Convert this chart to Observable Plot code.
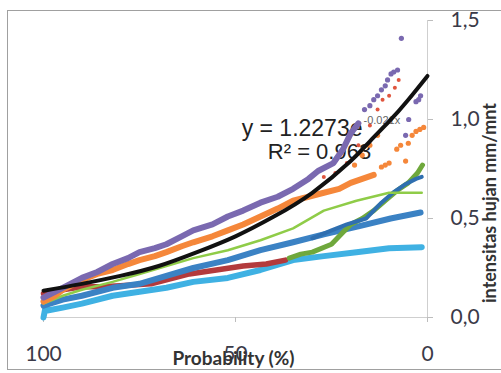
<!DOCTYPE html>
<html>
<head>
<meta charset="utf-8">
<script src="https://cdn.jsdelivr.net/npm/d3@7"></script>
<script src="https://cdn.jsdelivr.net/npm/@observablehq/plot@0.6"></script>
<style>
  html, body { margin: 0; padding: 0; background: #fff; }
  #wrap { position: relative; width: 501px; height: 373px; overflow: hidden; }
  #border { position: absolute; left: 7px; top: 10px; width: 494px; height: 360px; border: 1px solid #a0a0a0; border-right: none; box-sizing: border-box; pointer-events: none; }
  svg { position: absolute; left: 0; top: 0; }
</style>
</head>
<body>
<div id="wrap"><div id="border"></div></div>
<script>
// ---- data (probability %, rain intensity mm/min) ----
const xTicks = [100, 50, 0];
const yTicks = [0, 0.5, 1.0, 1.5];
const xLabel = "Probability (%)";
const yLabel = "intensitas hujan mm/mnt";
const eqMain = "y = 1.2273e";
const eqExp = "-0.021x";
const eqR2 = "R² = 0.963";

const purpleP = [100, 97, 95, 92, 90, 86, 82, 78, 75, 71, 68, 64, 61, 56, 52, 48, 43.5, 39, 35, 31, 28.5, 24.5, 22, 20, 18];
const purpleV = [0.10, 0.13, 0.15, 0.18, 0.20, 0.23, 0.27, 0.30, 0.33, 0.35, 0.37, 0.41, 0.44, 0.47, 0.51, 0.54, 0.58, 0.61, 0.65, 0.70, 0.74, 0.78, 0.85, 0.93, 0.98];
const purpleDotP = [16.4, 15, 14, 13, 12, 11, 10.4, 9.5, 8.8, 7.8, 6.8, 5.7, 4.9, 3, 2.3, 1.8];
const purpleDotV = [1.05, 1.07, 1.10, 1.12, 1.15, 1.17, 1.20, 1.23, 1.24, 1.25, 1.41, 0.92, 1.00, 1.09, 1.10, 1.12];

const orangeP = [100, 97, 95, 90, 86, 82, 78, 75, 71, 68, 64, 61, 56, 52, 48, 43.5, 39, 35, 31, 27, 23, 20, 17, 14];
const orangeV = [0.08, 0.11, 0.14, 0.19, 0.22, 0.24, 0.27, 0.29, 0.31, 0.33, 0.36, 0.38, 0.41, 0.44, 0.47, 0.51, 0.55, 0.59, 0.61, 0.63, 0.65, 0.68, 0.70, 0.72];
const orangeDotP = [19, 17, 15, 13, 12, 11, 10, 8, 7, 5.7, 5, 4, 3, 2, 1];
const orangeDotV = [0.77, 0.82, 0.87, 0.92, 0.76, 0.77, 0.78, 0.85, 0.87, 0.79, 0.88, 0.92, 0.94, 0.95, 0.96];
const redDotP = [27, 24, 21, 18, 15, 13, 11.7, 10, 8.5, 7.5];
const redDotV = [0.71, 0.73, 0.78, 0.87, 0.97, 1.05, 1.10, 1.12, 1.16, 1.20];

const darkRedP = [100, 95, 90, 85, 80, 72, 68, 62, 55, 48, 42, 37];
const darkRedV = [0.12, 0.14, 0.155, 0.155, 0.16, 0.17, 0.19, 0.22, 0.24, 0.26, 0.27, 0.29];

const lightGreenP = [100, 95, 90, 82, 75, 68, 61, 52, 43.5, 35, 27, 18.5, 10, 1.5];
const lightGreenV = [0.07, 0.11, 0.14, 0.18, 0.22, 0.26, 0.30, 0.34, 0.39, 0.45, 0.54, 0.59, 0.63, 0.63];

const darkGreenP = [36, 33, 30, 25, 22, 20, 17, 14, 11, 8, 5, 2.6, 1.3];
const darkGreenV = [0.30, 0.32, 0.33, 0.37, 0.43, 0.47, 0.50, 0.54, 0.59, 0.64, 0.68, 0.73, 0.77];

const blueP = [100, 95, 90, 82, 75, 68, 61, 52, 43.5, 35, 27, 18, 9.6, 1.8];
const blueV = [0.06, 0.09, 0.11, 0.15, 0.17, 0.21, 0.25, 0.29, 0.34, 0.38, 0.42, 0.46, 0.50, 0.53];
const blue2P = [30, 25, 21, 16, 12, 9, 6, 3, 1.5];
const blue2V = [0.40, 0.44, 0.47, 0.50, 0.58, 0.63, 0.67, 0.70, 0.71];

const lightBlueP = [100, 99.5, 99, 95, 90, 82, 75, 68, 61, 52, 43.5, 35, 27, 18.5, 10, 1.5];
const lightBlueV = [0.0, 0.05, 0.035, 0.05, 0.07, 0.11, 0.13, 0.15, 0.18, 0.20, 0.24, 0.29, 0.31, 0.33, 0.35, 0.355];

const trendP = [100, 90, 80, 70, 60, 50, 40, 30, 20, 15, 10, 5, 0];
const trendV = [0.135, 0.17, 0.21, 0.26, 0.33, 0.41, 0.51, 0.63, 0.79, 0.89, 0.99, 1.10, 1.22];

// ---- build tables ----
const zip = (P, V) => P.map((p, i) => ({p, v: V[i]}));
const lineMark = (P, V, color, w) => Plot.line(zip(P, V), {x: "p", y: "v", stroke: color, strokeWidth: w, strokeLinejoin: "round", strokeLinecap: "round"});
const dotMark = (P, V, color, r) => Plot.dot(zip(P, V), {x: "p", y: "v", fill: color, r: r, stroke: "none"});

const COL = {
  purple: "#7a69b0", orange: "#f5873a", red: "#e0553e", darkRed: "#b33a3c",
  lightGreen: "#8fcc48", darkGreen: "#6fa83c", blue: "#3b82c4", blue2: "#2f6fb0",
  lightBlue: "#3fb1e3", black: "#111111"
};

const fontNum = "Lato, 'Open Sans', sans-serif";
const fontEq = "'Liberation Sans', Arial, sans-serif";

const chart = Plot.plot({
  width: 501,
  height: 373,
  marginLeft: 43,
  marginRight: 74,
  marginTop: 20,
  marginBottom: 56,
  style: {background: "transparent", overflow: "visible"},
  x: {domain: [100, 0]},
  y: {domain: [0, 1.5]},
  marks: [
    Plot.ruleY([0], {stroke: "#cfcfcf", strokeWidth: 1}),
    Plot.ruleX([0], {stroke: "#cfcfcf", strokeWidth: 1}),
    Plot.axisX({ticks: xTicks, tickFormat: d => String(d), tickSize: 5, tickPadding: 24, label: null,
      stroke: "#bdbdbd", fill: "#3a3a48", fontSize: 21, fontFamily: fontNum}),
    Plot.axisY({anchor: "right", ticks: yTicks, tickFormat: d => d.toFixed(1).replace(".", ","), tickSize: 5, tickPadding: 18, label: null,
      stroke: "#bdbdbd", fill: "#3a3a48", fontSize: 21, fontFamily: fontNum}),
    // trendline label
    Plot.text([eqMain], {frameAnchor: "top-left", dx: 319, dy: 108, textAnchor: "end", lineAnchor: "middle",
      fontSize: 23, fontFamily: fontEq, fill: "#222"}),
    Plot.text([eqExp], {frameAnchor: "top-left", dx: 320, dy: 100, textAnchor: "start", lineAnchor: "middle",
      fontSize: 11, fontFamily: fontEq, fill: "#666"}),
    Plot.text([eqR2], {frameAnchor: "top-left", dx: 276, dy: 131, textAnchor: "middle", lineAnchor: "middle",
      fontSize: 22, fontFamily: fontEq, fill: "#222"}),
    // series
    lineMark(lightBlueP, lightBlueV, COL.lightBlue, 6),
    lineMark(darkRedP, darkRedV, COL.darkRed, 5.5),
    lineMark(blueP, blueV, COL.blue, 6),
    lineMark(darkGreenP, darkGreenV, COL.darkGreen, 5),
    lineMark(blue2P, blue2V, COL.blue2, 4),
    lineMark(lightGreenP, lightGreenV, COL.lightGreen, 2.5),
    lineMark(orangeP, orangeV, COL.orange, 6),
    dotMark(orangeDotP, orangeDotV, COL.orange, 2.6),
    lineMark(purpleP, purpleV, COL.purple, 6),
    dotMark(purpleDotP, purpleDotV, COL.purple, 2.6),
    dotMark(redDotP, redDotV, COL.red, 2),
    Plot.line(zip(trendP, trendV), {x: "p", y: "v", stroke: COL.black, strokeWidth: 4, curve: "natural"}),
    // axis titles
    Plot.text([xLabel], {frameAnchor: "bottom", dx: -2, dy: 41, textAnchor: "middle", lineAnchor: "middle", fontSize: 19, fontWeight: "bold",
      fontFamily: fontNum, fill: "#333"}),
    Plot.text([yLabel], {frameAnchor: "right", dx: 63, dy: 34, rotate: -90, textAnchor: "middle", lineAnchor: "middle", fontSize: 18, fontWeight: "bold",
      fontFamily: fontNum, fill: "#333"})
  ]
});
document.getElementById("wrap").appendChild(chart);
</script>
</body>
</html>
